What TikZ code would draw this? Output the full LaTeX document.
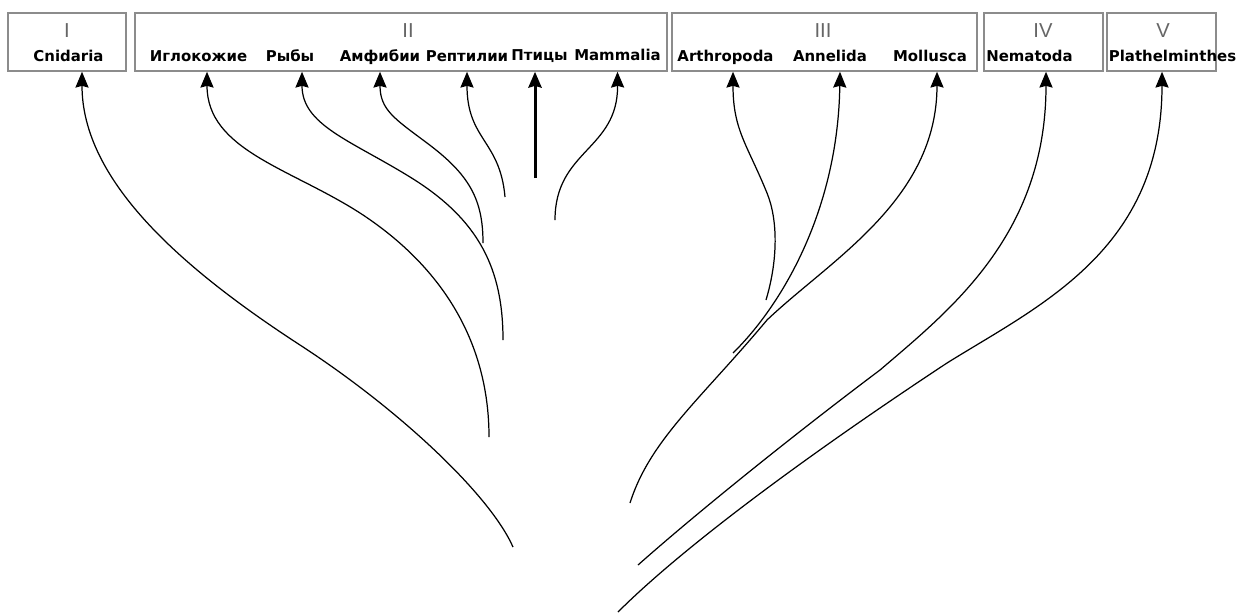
\documentclass[tikz,border=0pt]{standalone}
\usepackage{fontspec}
\setmainfont{DejaVu Sans}
\newfontfamily\numfont{Liberation Sans}
\usetikzlibrary{arrows.meta,calc}
\begin{document}
\begin{tikzpicture}[x=0.02cm, y=-0.02cm,
    clade/.style ={draw=black!45, line width=0.9pt, inner sep=0pt, minimum height=1.16cm},
    taxon/.style ={font=\bfseries\fontsize{8.5}{10}\selectfont, anchor=base, inner sep=0pt},
    rank/.style ={font=\numfont\fontsize{11.5}{13}\selectfont, text=black!60, inner sep=0pt},
    branch/.style ={line width=0.7pt, -{Stealth[length=9pt, width=7.5pt, inset=1pt]}}]
   \useasboundingbox (0,0) rectangle (1250,613);
   % groups
   \node[clade, minimum width=2.36cm] (b1) at (67,42) {};
   \node[clade, minimum width=10.64cm] (b2) at (401,42) {};
   \node[clade, minimum width=6.10cm] (b3) at (824.5,42) {};
   \node[clade, minimum width=2.38cm] (b4) at (1043.5,42) {};
   \node[clade, minimum width=2.18cm] (b5) at (1161.5,42) {};
   \node[rank] (r1) at (67,31) {I};
   \node[rank] (r2) at (408,31) {II};
   \node[rank] (r3) at (823,31) {III};
   \node[rank] (r4) at (1043,31) {IV};
   \node[rank] (r5) at (1163,31) {V};
   % taxa
   \node[taxon] (cni) at (68.5,61) {Cnidaria};
   \node[taxon] (igl) at (198.5,61) {Иглокожие};
   \node[taxon] (ryb) at (290,61) {Рыбы};
   \node[taxon] (amf) at (380,61) {Амфибии};
   \node[taxon] (rep) at (467,61) {Рептилии};
   \node[taxon] (pti) at (539.5,60) {Птицы};
   \node[taxon] (mam) at (617.5,60) {Mammalia};
   \node[taxon] (art) at (725.5,61) {Arthropoda};
   \node[taxon] (ann) at (830,61) {Annelida};
   \node[taxon] (mol) at (930,61) {Mollusca};
   \node[taxon] (nem) at (1029.5,61) {Nematoda};
   \node[taxon] (pla) at (1172.5,61) {Plathelminthes};
   % free ends of the branches
   \coordinate (eCni) at (513,547);
   \coordinate (eIgl) at (489,437);
   \coordinate (eRyb) at (503,340);
   \coordinate (eAmf) at (483,243);
   \coordinate (eRep) at (505,197);
   \coordinate (ePti) at (535,178);
   \coordinate (eMam) at (555,220);
   \coordinate (eArt) at (766,300);
   \coordinate (eAnn) at (733,353);
   \coordinate (eMol) at (630,503);
   \coordinate (eNem) at (638,565);
   \coordinate (ePla) at (618,612);
   % branches
   \draw[branch] (eCni) .. controls (490,495) and (400,410) .. (300,345)
      .. controls (180,267) and (82,180) .. ($(cni |- b1.south)+(13.5,0)$);
   \draw[branch] (eIgl) .. controls (489,340) and (440,265) .. (360,213)
      .. controls (290,168) and (207,150) .. ($(igl |- b2.south)+(8.5,0)$);
   \draw[branch] (eRyb) .. controls (503,270) and (480,220) .. (410,177)
      .. controls (350,140) and (302,125) .. ($(ryb |- b2.south)+(12,0)$);
   \draw[branch] (eAmf) .. controls (483,200) and (470,175) .. (427,143)
      .. controls (395,119) and (380,110) .. (amf |- b2.south);
   \draw[branch] (eRep) .. controls (500,140) and (467,140) .. (rep |- b2.south);
   \draw[branch, line width=1.7pt] (ePti) -- ($(pti |- b2.south)+(-4.5,0)$);
   \draw[branch] (eMam) .. controls (555,150) and (618,150) .. (mam |- b2.south);
   \draw[branch] (eArt) .. controls (778,260) and (778,220) .. (767,193)
      .. controls (747,144) and (733,130) .. ($(art |- b3.south)+(7.5,0)$);
   \draw[branch] (eAnn) .. controls (782,305) and (838,210) .. ($(ann |- b3.south)+(10,0)$);
   \draw[branch] (eMol) .. controls (650,440) and (700,400) .. (767,320)
      .. controls (830,260) and (937,200) .. ($(mol |- b3.south)+(7,0)$);
   \draw[branch] (eNem) .. controls (700,510) and (800,430) .. (880,370)
      .. controls (950,310) and (1046,235) .. ($(nem |- b4.south)+(16.5,0)$);
   \draw[branch] (ePla) .. controls (680,550) and (800,460) .. (947,363)
      .. controls (1040,305) and (1162,250) .. ($(pla |- b5.south)+(-10.5,0)$);
\end{tikzpicture}
\end{document}
